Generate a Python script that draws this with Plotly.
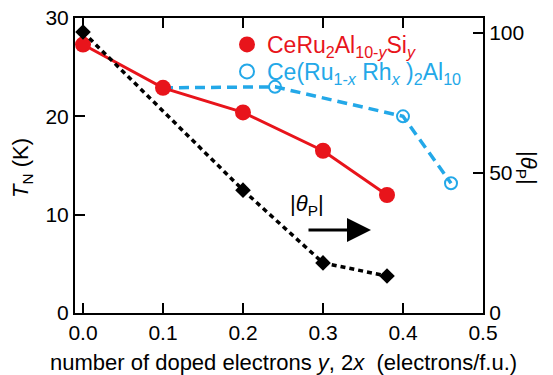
import plotly.graph_objects as go

# ---- data ----
si_y = [0.0, 0.1, 0.2, 0.3, 0.38]
si_tn = [27.3, 22.9, 20.4, 16.5, 12.0]

rh_2x = [0.1, 0.24, 0.4, 0.46]
rh_tn = [22.9, 23.0, 20.0, 13.2]

theta_y = [0.0, 0.2, 0.3, 0.38]
theta_p = [100.4, 43.9, 17.9, 13.2]

x_ticks = [0.0, 0.1, 0.2, 0.3, 0.4, 0.5]
y_ticks = [0, 10, 20, 30]
y2_ticks = [0, 50, 100]

RED = "#e8141b"
BLUE = "#23a8e8"
FONT = "Arial, Liberation Sans, sans-serif"

fig = go.Figure()

fig.add_trace(go.Scatter(
    x=rh_2x, y=rh_tn, mode="lines+markers", showlegend=False,
    line=dict(color=BLUE, width=3.5, dash="10px,6px"),
    marker=dict(symbol="circle-open", size=12, color=BLUE, line=dict(width=2, color=BLUE)),
))
fig.add_trace(go.Scatter(
    x=si_y, y=si_tn, mode="lines+markers", showlegend=False,
    line=dict(color=RED, width=3),
    marker=dict(symbol="circle", size=16, color=RED),
))
fig.add_trace(go.Scatter(
    x=theta_y, y=theta_p, yaxis="y2", mode="lines+markers", showlegend=False,
    line=dict(color="black", width=3.5, dash="5px,4px"),
    marker=dict(symbol="diamond", size=12, color="black"),
))

fig.add_trace(go.Scatter(
    x=[None], y=[None], mode="markers", legend="legend",
    name='<span style="color:%s">CeRu<sub>2</sub>Al<sub>10-<i>y</i></sub>Si<sub><i>y</i></sub></span>' % RED,
    marker=dict(symbol="circle", size=16, color=RED),
))
fig.add_trace(go.Scatter(
    x=[None], y=[None], mode="markers", legend="legend2",
    name='<span style="color:%s">Ce(Ru<sub>1-<i>x</i></sub> Rh<sub><i>x</i></sub> )<sub>2</sub>Al<sub>10</sub></span>' % BLUE,
    marker=dict(symbol="circle-open", size=14, color=BLUE, line=dict(width=2, color=BLUE)),
))

axis_common = dict(
    showline=True, linecolor="black", linewidth=2,
    ticks="inside", ticklen=10, tickwidth=2, tickcolor="black",
    showgrid=False, zeroline=False, automargin=False,
    tickfont=dict(family=FONT, size=21, color="black"),
)

L, R, T, B = 75, 70, 18, 62
PW, PH = 553 - L - R, 375 - T - B


def px(xp):
    return (xp - L) / PW


def py(yp):
    return (375 - B - yp) / PH


legend_common = dict(
    xanchor="left", yanchor="top", bgcolor="rgba(0,0,0,0)",
    font=dict(family=FONT, size=23), tracegroupgap=0, itemwidth=30,
)

fig.update_layout(
    width=553, height=375,
    margin=dict(l=L, r=R, t=T, b=B, autoexpand=False),
    paper_bgcolor="white", plot_bgcolor="white",
    font=dict(family=FONT, color="black"),
    xaxis=dict(range=[-0.01, 0.5], tickvals=x_ticks, tickformat=".1f", mirror="ticks", **axis_common),
    yaxis=dict(range=[0, 30], tickvals=y_ticks, **axis_common),
    yaxis2=dict(range=[0, 105.4], tickvals=y2_ticks, overlaying="y", side="right", **axis_common),
    showlegend=True,
    legend=dict(x=px(227), y=py(23), **legend_common),
    legend2=dict(x=px(227), y=py(50), **legend_common),
    annotations=[
        dict(text="number of doped electrons <i>y</i>, 2<i>x</i>&nbsp; (electrons/f.u.)",
             xref="paper", yref="paper", x=px(283), y=py(362),
             xanchor="center", yanchor="middle", showarrow=False,
             font=dict(family=FONT, size=22, color="black")),
        dict(text="<i>T</i><sub>N</sub> (K)", textangle=-90,
             xref="paper", yref="paper", x=px(22), y=py(168),
             xanchor="center", yanchor="middle", showarrow=False,
             font=dict(family=FONT, size=22, color="black")),
        dict(text="|<i>θ</i><sub>P</sub>|", textangle=90,
             xref="paper", yref="paper", x=px(527), y=py(168),
             xanchor="center", yanchor="middle", showarrow=False,
             font=dict(family=FONT, size=22, color="black")),
        dict(text="|<i>θ</i><sub>P</sub>|", xref="x", yref="y", x=0.28, y=11.0,
             xanchor="center", yanchor="middle", showarrow=False,
             font=dict(family=FONT, size=22, color="black")),
        dict(text="", xref="x", yref="y", x=0.36, y=8.44,
             axref="x", ayref="y", ax=0.28, ay=8.44,
             showarrow=True, arrowhead=2, arrowwidth=3, arrowsize=1.6, arrowcolor="black"),
    ],
)

fig.write_html(
    "out.html",
    config={"displayModeBar": False},
    post_script="document.body.style.margin='0';document.body.style.overflow='hidden';",
)
